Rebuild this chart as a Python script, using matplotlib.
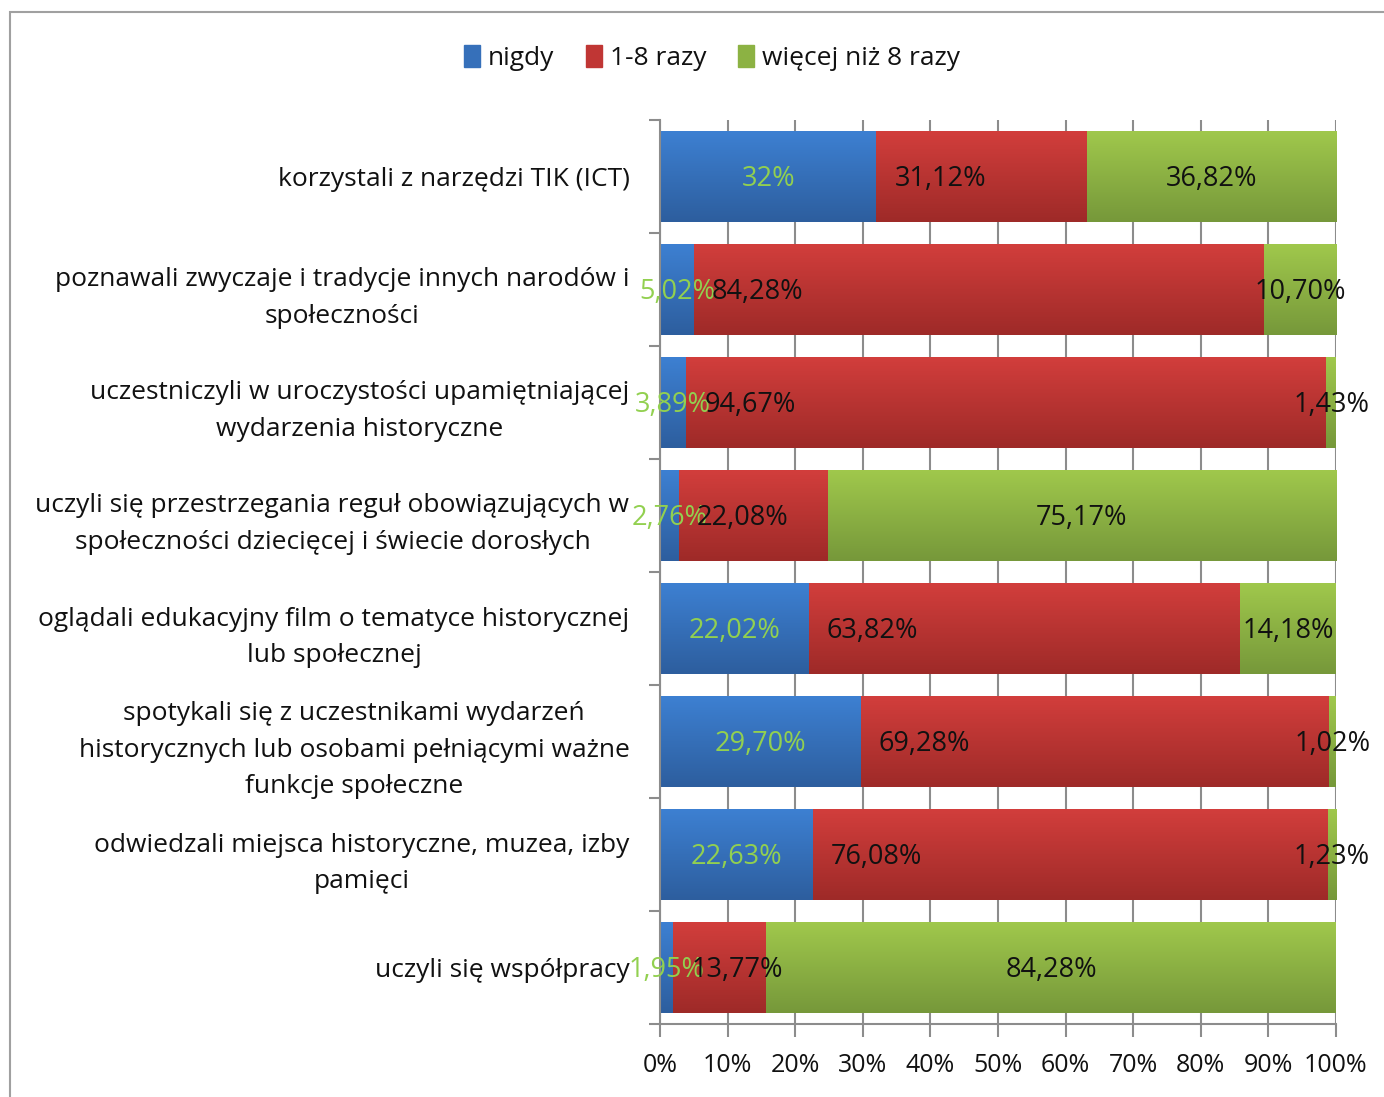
import matplotlib
matplotlib.use("Agg")
import matplotlib.pyplot as plt
import numpy as np
from matplotlib.patches import Rectangle

categories = [
    "korzystali z narzędzi TIK (ICT)",
    "poznawali zwyczaje i tradycje innych narodów i\nspołeczności",
    "uczestniczyli w uroczystości upamiętniającej\nwydarzenia historyczne",
    "uczyli się przestrzegania reguł obowiązujących w\nspołeczności dziecięcej i świecie dorosłych",
    "oglądali edukacyjny film o tematyce historycznej\nlub społecznej",
    "spotykali się z uczestnikami wydarzeń\nhistorycznych lub osobami pełniącymi ważne\nfunkcje społeczne",
    "odwiedzali miejsca historyczne, muzea, izby\npamięci",
    "uczyli się współpracy",
]
nigdy = [32.00, 5.02, 3.89, 2.76, 22.02, 29.70, 22.63, 1.95]
razy_1_8 = [31.12, 84.28, 94.67, 22.08, 63.82, 69.28, 76.08, 13.77]
wiecej = [36.82, 10.70, 1.43, 75.17, 14.18, 1.02, 1.23, 84.28]
series_names = ["nigdy", "1-8 razy", "więcej niż 8 razy"]
xtick_labels = ["0%", "10%", "20%", "30%", "40%", "50%", "60%", "70%", "80%", "90%", "100%"]

FONT = ["Open Sans", "DejaVu Sans"]
plt.rcParams["font.family"] = FONT

def fmt(v):
    s = f"{v:.2f}".replace(".", ",")
    if s.endswith(",00"):
        s = s[:-3]
    return s + "%"

top_cols = ["#3D80D2", "#D23E3C", "#A0C84C"]
bot_cols = ["#2D5E9E", "#9E2A28", "#76983A"]
mid_cols = ["#3670BA", "#C03634", "#8CB243"]
TXT = "#111111"

fig = plt.figure(figsize=(13.84, 10.97), dpi=100)
ax = fig.add_axes([660/1384, 1-1024/1097, 676/1384, 904/1097])

n = len(categories)
y = np.arange(n)
data = [np.array(nigdy), np.array(razy_1_8), np.array(wiecej)]
totals = data[0] + data[1] + data[2]
pct = [d / totals * 100 for d in data]

ax.set_xlim(0, 100)
ax.set_ylim(n - 0.5, -0.5)

grad = np.linspace(0, 1, 256).reshape(-1, 1)
left = np.zeros(n)
for k in range(3):
    bars = ax.barh(y, pct[k], left=left, height=0.8, color=mid_cols[k],
                   edgecolor="none", zorder=2, label=series_names[k])
    cmap = matplotlib.colors.LinearSegmentedColormap.from_list(
        "g%d" % k, [top_cols[k], bot_cols[k]])
    for b in bars:
        x0, y0 = b.get_x(), b.get_y()
        w, h = b.get_width(), b.get_height()
        im = ax.imshow(grad, cmap=cmap, aspect="auto",
                       extent=(x0, x0 + w, y0 + h, y0), zorder=2.5,
                       interpolation="bicubic")
        im.set_clip_path(b)
    left = left + pct[k]

ax.set_xlim(0, 100)
ax.set_ylim(n - 0.5, -0.5)

# data labels
fs_lab = 19.5
for i in range(n):
    ax.text(pct[0][i] / 2, i + 0.02, fmt(data[0][i]), ha="center", va="center",
            color="#92D050", fontsize=fs_lab, zorder=5)
    ax.annotate(fmt(data[1][i]), xy=(pct[0][i], i + 0.02), xytext=(13, 0),
                textcoords="offset points", ha="left", va="center",
                color=TXT, fontsize=fs_lab, zorder=5)
    ax.text(pct[0][i] + pct[1][i] + pct[2][i] / 2, i + 0.02, fmt(data[2][i]),
            ha="center", va="center", color=TXT, fontsize=fs_lab, zorder=5)

# axes styling
fs = 19
ax.set_xticks(np.arange(0, 101, 10))
ax.set_xticklabels(xtick_labels, fontsize=18, color=TXT)
ax.set_yticks(y)
ax.set_yticklabels(categories, fontsize=fs, color=TXT, linespacing=1.6)
for lbl in ax.get_yticklabels():
    lbl.set_multialignment("center")
ax.tick_params(axis="y", which="major", length=0, pad=22)
ax.set_yticks(np.arange(-0.5, n, 1), minor=True)
ax.tick_params(axis="y", which="minor", length=8, color="#8c8c8c", width=1.5, direction="out")
ax.tick_params(axis="x", which="major", length=9, color="#8c8c8c", width=1.5, pad=12)
ax.grid(axis="x", color="#8c8c8c", linewidth=1.5, zorder=0)
ax.set_axisbelow(True)
for s in ["top", "right"]:
    ax.spines[s].set_visible(False)
for s in ["left", "bottom"]:
    ax.spines[s].set_color("#8c8c8c")
    ax.spines[s].set_linewidth(1.5)

fig.legend(handles=[matplotlib.patches.Patch(color=c) for c in mid_cols],
           labels=series_names, loc="center", bbox_to_anchor=(712/1384, 1-58/1097),
           ncol=3, frameon=False, fontsize=fs, handlelength=0.6, handleheight=0.9,
           handletextpad=0.3, columnspacing=1.2, labelcolor=TXT)

# outer chart frame
fig.add_artist(Rectangle((10/1384, -0.01), 1.1, 1-12/1097 + 0.01, transform=fig.transFigure,
                         fill=False, edgecolor="#a0a0a0", linewidth=1.5))

fig.savefig("out.png", dpi=100, facecolor="white")
